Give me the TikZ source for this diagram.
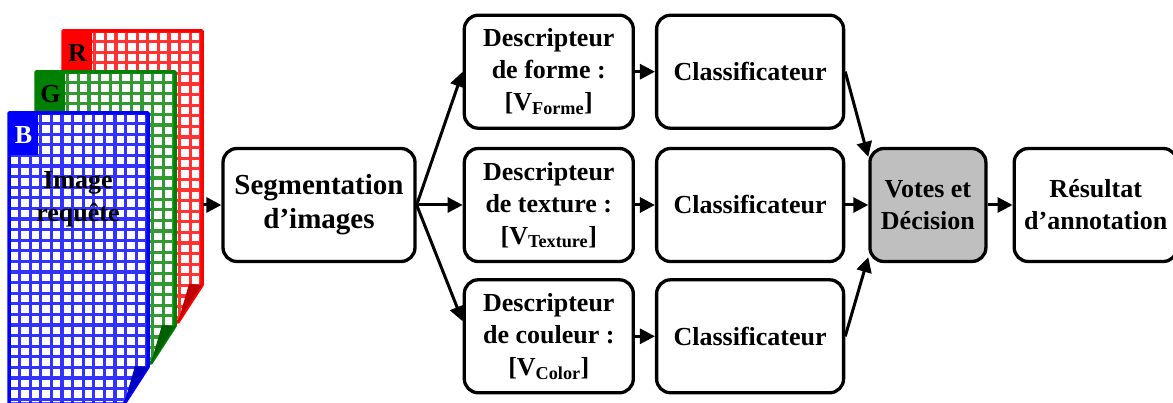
\documentclass[tikz,border=0pt]{standalone}
\usepackage{fontspec}
\setmainfont{Liberation Serif}
\usepackage{tikz}
\usetikzlibrary{arrows.meta, positioning}
\tikzset{
  block/.style={rectangle, draw, line width=3.3pt, rounded corners=14pt,
                align=center, minimum height=113pt, inner sep=2pt,
                font=\bfseries\fontsize{26}{32}\selectfont},
  decision/.style={block, fill=gray!50},
  arrow/.style={-{Triangle[length=15pt, width=15pt]}, line width=3pt},
  letter/.style={font=\bfseries\fontsize{26}{30}\selectfont, inner sep=0pt},
}

\begin{document}
\begin{tikzpicture}[x=1pt, y=-1pt]
  \useasboundingbox (0,0) rectangle (1173,403);

  % RGB planes of the query image, back to front
  \foreach \i/\col/\lbl/\lblcol in {2/red/R/black, 1/green!50!black/G/black, 0/blue/B/white} {
    \begin{scope}[shift={(9+27*\i, 113-41*\i)}]
      \fill[white] (0,0) -- (139,0) -- (139,254) -- (115,291) -- (0,291) -- cycle;
      \begin{scope}
        \clip (0,0) -- (139,0) -- (139,254) -- (115,291) -- (0,291) -- cycle;
        \draw[\col!80, line width=3.2pt, step=10.6pt] (0,0) grid (139,291);
      \end{scope}
      \draw[\col, line width=3.5pt, line join=round]
        (0,0) -- (139,0) -- (139,254) -- (115,291) -- (0,291) -- cycle;
      % folded corner
      \fill[\col!75!black] (115,291) -- (139,254) -- (126,253) -- cycle;
      % channel tag
      \fill[\col] (0,0) rectangle (29,42);
      \node[letter, text=\lblcol] (tag\i) at (14.5,22) {\lbl};
    \end{scope}
  }
  \node[letter, align=center, font=\bfseries\fontsize{26}{33}\selectfont] (img) at (78,199)
    {Image\\requête};
  \coordinate (imgout) at (203,205);

  % Segmentation
  \node[block, minimum width=192pt, font=\bfseries\fontsize{29}{34}\selectfont] (seg)
    at (319,205) {Segmentation\\d’images};

  % Descriptors
  \node[block, minimum width=169pt, right=46pt of seg] (texture)
    {Descripteur\\de texture :\\{[V\textsubscript{Texture}]}};
  \node[block, minimum width=169pt, above=17pt of texture] (forme)
    {Descripteur\\de forme :\\{[V\textsubscript{Forme}]}};
  \node[block, minimum width=169pt, below=15pt of texture] (couleur)
    {Descripteur\\de couleur :\\{[V\textsubscript{Color}]}};

  % Classifiers
  \node[block, minimum width=187pt, right=20pt of forme]   (clsf) {Classificateur};
  \node[block, minimum width=187pt, right=20pt of texture] (clst) {Classificateur};
  \node[block, minimum width=187pt, right=20pt of couleur] (clsc) {Classificateur};

  % Fusion and output
  \node[decision, minimum width=116pt, right=23pt of clst] (vote) {Votes et\\Décision};
  \node[block, minimum width=163pt, right=25pt of vote] (res) {Résultat\\d’annotation};

  % Arrows
  \draw[arrow] (imgout) -- (seg);
  \draw[arrow] (seg.east) -- (forme.west);
  \draw[arrow] (seg.east) -- (texture.west);
  \draw[arrow] (seg.east) -- ([yshift=15pt]couleur.west);

  \draw[arrow] (forme) -- (clsf);
  \draw[arrow] (texture) -- (clst);
  \draw[arrow] (couleur) -- (clsc);

  \draw[arrow] (clsf.east) -- ([yshift=-10pt]vote.north west);
  \draw[arrow] (clst) -- (vote);
  \draw[arrow] (clsc.east) -- ([yshift=6pt]vote.south west);
  \draw[arrow] (vote) -- (res);
\end{tikzpicture}
\end{document}
